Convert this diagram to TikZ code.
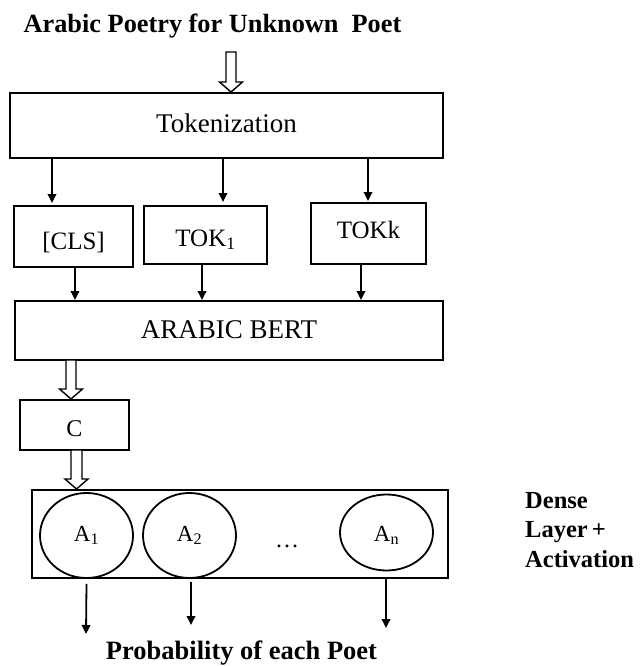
\documentclass[tikz,border=0pt]{standalone}
\usepackage{fontspec}
\setmainfont{Liberation Serif}
\usetikzlibrary{arrows.meta,calc,shapes.geometric}
\newcommand\hollowdown[3]{% start, end, shaft half width
  \draw[line width=1.4pt,line join=miter,fill=white]
    ($(#1)+(-#3,0)$) -- ($(#2)+(-#3,-10)$) -- ($(#2)+(-11.5,-10)$) -- (#2)
    -- ($(#2)+(11.5,-10)$) -- ($(#2)+(#3,-10)$) -- ($(#1)+(#3,0)$) -- cycle;}
\begin{document}
\begin{tikzpicture}[x=1pt,y=-1pt,
  box/.style={draw,line width=2pt,inner sep=0pt,text depth=0pt},
  big/.style={font=\fontsize{27}{32}\selectfont},
  mid/.style={font=\fontsize{25}{30}\selectfont},
  cell/.style={draw,ellipse,line width=1.8pt,inner sep=0pt,text depth=0pt,minimum width=93pt,minimum height=85pt,font=\fontsize{23}{28}\selectfont},
  lbl/.style={font=\bfseries\fontsize{26.3}{30}\selectfont,inner sep=0pt},
  arr/.style={line width=1.8pt,-{Triangle[length=9pt,width=8.5pt]}}
]
\useasboundingbox (0,0) rectangle (640,666);

\node[lbl,anchor=base] (title) at (212.5,33) {Arabic Poetry for Unknown\ \ Poet};

\node[box,big,minimum width=433pt,minimum height=65pt,text height=13pt] (tok) at (226.5,125.5) {Tokenization};
\node[box,mid,minimum width=119pt,minimum height=61pt,text height=25pt] (cls) at (73.5,236.5) {[CLS]};
\node[box,mid,minimum width=123pt,minimum height=58pt,text height=22pt] (tok1) at (205.5,235) {TOK\textsubscript{1}};
\node[box,mid,minimum width=115pt,minimum height=61pt,text height=9pt] (tokk) at (368.5,233.5) {TOKk};
\node[box,big,minimum width=428pt,minimum height=59pt,text height=15pt] (bert) at (229,330.5) {ARABIC BERT};
\node[box,font=\fontsize{24}{28}\selectfont,minimum width=109pt,minimum height=50pt,text height=22pt] (c) at (74.5,425) {C};
\node[box,minimum width=416pt,minimum height=88pt] (dense) at (240,534) {};

\node[cell,text height=11pt] (a1) at (86.5,535.5) {A\textsubscript{1}};
\node[cell,text height=11pt] (a2) at (189.5,535.5) {A\textsubscript{2}};
\node[cell,minimum height=76pt,text height=17pt] (an) at (386.5,532.5) {A\textsubscript{n}};
\node[font=\fontsize{24}{28}\selectfont,anchor=base] (dots) at (287,547) {\dots};

\node[lbl,font=\bfseries\fontsize{24.5}{29.5}\selectfont,align=left,anchor=base west] (dl) at (525,567) {Dense\\Layer\,+\\Activation};
\node[lbl,font=\bfseries\fontsize{26.5}{30}\selectfont,anchor=base] (prob) at (241.5,659) {Probability of each Poet};

% hollow arrows
\coordinate (h1s) at (231,52);
\hollowdown{h1s}{tok.north -| h1s}{5}
\coordinate (h2s) at (71,360);
\hollowdown{h2s}{c.north -| h2s}{5}
\coordinate (h3s) at (76.5,450);
\hollowdown{h3s}{dense.north -| h3s}{5.5}

% tokenization to tokens
\coordinate (x1) at (52,0);
\coordinate (x2) at (223,0);
\coordinate (x3) at (368,0);
\draw[arr] (tok.south -| x1) -- ($(cls.north -| x1)+(0,-2)$);
\draw[arr] (tok.south -| x2) -- ($(tok1.north -| x2)+(0,-3)$);
\draw[arr] (tok.south -| x3) -- ($(tokk.north -| x3)+(0,-1)$);

% tokens to bert
\coordinate (y1) at (75,0);
\coordinate (y2) at (202,0);
\coordinate (y3) at (361,0);
\draw[arr] (cls.south -| y1) -- (bert.north -| y1);
\draw[arr] (tok1.south -| y2) -- (bert.north -| y2);
\draw[arr] (tokk.south -| y3) -- (bert.north -| y3);

% outputs
\coordinate (o1) at (86,634);
\coordinate (o2) at (191,625);
\coordinate (o3) at (386,628);
\draw[arr] ($(a1.south)+(0,5)$) -- (o1);
\draw[arr] ($(a2.south)+(1.5,3)$) -- (o2);
\draw[arr] ($(an.south)+(-0.5,8)$) -- (o3);
\end{tikzpicture}
\end{document}
